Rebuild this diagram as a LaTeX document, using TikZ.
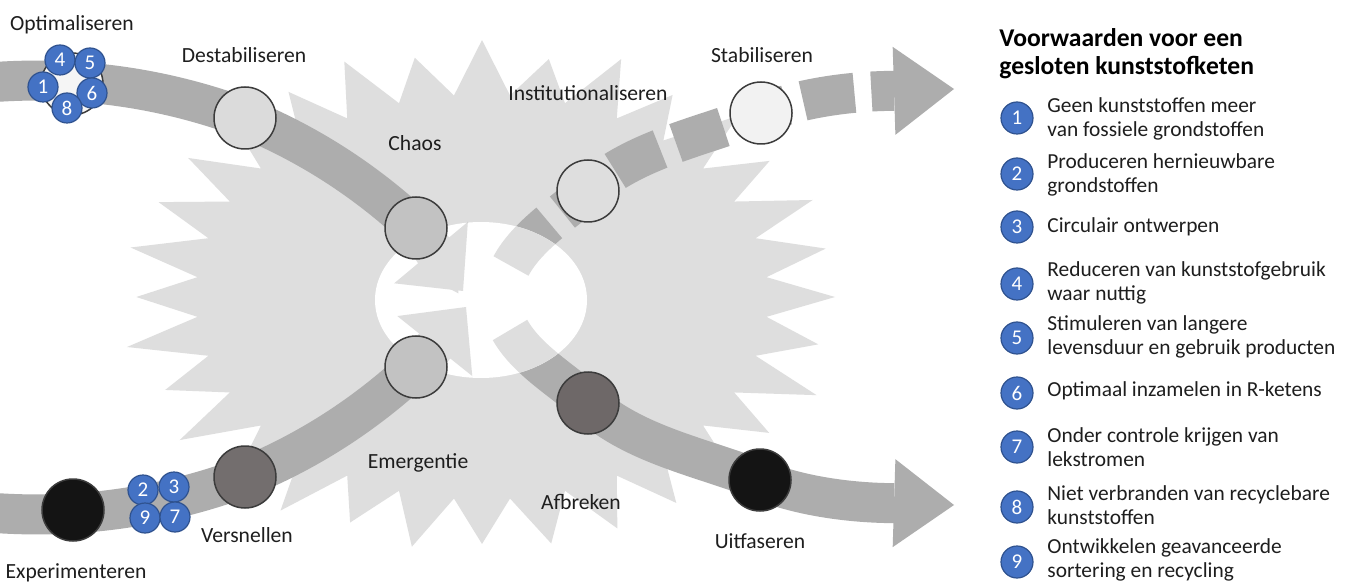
\documentclass[tikz,border=0pt]{standalone}
\usepackage{fontspec}
\setmainfont{Carlito}
\usetikzlibrary{arrows.meta}
\definecolor{bandgray}{HTML}{ADADAD}
\definecolor{stargray}{HTML}{DEDEDE}
\definecolor{ringline}{HTML}{3C3C3C}
\definecolor{numblue}{HTML}{4472C4}
\definecolor{numedge}{HTML}{2F528F}
\definecolor{labelink}{HTML}{1E1E1E}

% the four curved bands, drawn in the colour given as argument
\newcommand\drawbands[2]{%
  \draw[band,line width=#2,inhead,#1] (a0) .. controls (83,76) and (167,89) .. (a1)
        .. controls (309,144) and (367,182) .. (a2)
        .. controls (433,246) and (448,273) .. (a3);
  \draw[band,line width=#2,inhead,#1] (b0) .. controls (83,519) and (167,506) .. (b1)
        .. controls (309,451) and (367,413) .. (b2)
        .. controls (433,349) and (450,327) .. (b3);
  \draw[band,line width=#2,outhead,#1] (c0) .. controls (527,360) and (562,380) .. (c1)
        .. controls (635,445) and (701,457) .. (c2)
        .. controls (820,504) and (889,503) .. (c3);
  \draw[band,line width=#2,outhead,gapdash,#1] (d0) .. controls (527,236) and (562,214) .. (d1)
        .. controls (635,149) and (701,137) .. (d2)
        .. controls (820,90) and (889,91) .. (d3);
}

\begin{document}
\begin{tikzpicture}[x=0.5pt,y=-0.5pt,
  band/.style={line width=20pt},
  inhead/.style={-{Triangle[length=25pt,width=48pt,line width=0pt]}},
  outhead/.style={-{Triangle[length=30pt,width=44pt,line width=0pt]}},
  gapdash/.style={dash pattern=on 29pt off 8.5pt on 25pt off 8.5pt on 25pt off 8.5pt on 25pt off 8.5pt on 25pt off 8.5pt on 26pt off 8.5pt on 60pt},
  phase/.style={circle,draw=ringline,line width=0.75pt,minimum size=31pt,inner sep=0pt},
  num/.style={circle,fill=numblue,draw=numedge,line width=0.6pt,minimum size=15pt,inner sep=0pt,text=white,font=\fontsize{10.5pt}{10.5pt}\selectfont},
  legnum/.style={num,minimum size=16pt},
  lbl/.style={text=labelink,font=\fontsize{10.8pt}{12pt}\selectfont,inner sep=0pt},
  legtext/.style={text=labelink,anchor=west,align=left,inner sep=0pt,font=\fontsize{10.7pt}{12pt}\selectfont},
]
\useasboundingbox (0,0) rectangle (1347,582);
\fill[white] (0,0) rectangle (1347,582);

% spiky backdrop, tips of slightly uneven length
\fill[stargray] plot[variable=\k,samples at={0,...,63}]
  ({482+353*(1-0.19*mod(\k,2)+0.03*(1-mod(\k,2))*sin(\k*97))*cos(\k*5.625)},
   {297-250*(1-0.19*mod(\k,2)+0.03*(1-mod(\k,2))*sin(\k*97))*sin(\k*5.625)}) -- cycle;

% path points of the bands
\coordinate (a0) at (-5,82);
\coordinate (a1) at (245,118);
\coordinate (a2) at (416,228);
\coordinate (a3) at (463,291);
\coordinate (b0) at (-5,513);
\coordinate (b1) at (245,477);
\coordinate (b2) at (416,367);
\coordinate (b3) at (466,307);
\coordinate (c0) at (510,330);
\coordinate (c1) at (588,403);
\coordinate (c2) at (760,480);
\coordinate (c3) at (954,505);
\coordinate (d0) at (511,266);
\coordinate (d1) at (588,191);
\coordinate (d2) at (760,114);
\coordinate (d3) at (954,89);

% bands, then the open centre, then the pale parts of the bands inside it
\drawbands{bandgray}{20pt}
\fill[white] (481,300) ellipse [x radius=106,y radius=78];
\begin{scope}
  \clip (481,300) ellipse [x radius=106,y radius=78];
  \drawbands{stargray}{20pt}
\end{scope}

% phase markers
\node[phase,fill=white!96!black] (cOpt) at (72,84) {};
\node[phase,fill=black!14] (cDest) at (245,118) {};
\node[phase,fill=black!24] (cChaos) at (416,228) {};
\node[phase,fill=black!13] (cInst) at (588,191) {};
\node[phase,fill=black!5] (cStab) at (761,113) {};
\node[phase,fill=black!92] (cExp) at (73,510) {};
\node[phase,fill={rgb,255:red,115;green,110;blue,110}] (cVers) at (245,477) {};
\node[phase,fill=black!24] (cEmer) at (416,367) {};
\node[phase,fill={rgb,255:red,110;green,104;blue,104}] (cAfbr) at (588,403) {};
\node[phase,fill=black!92] (cUit) at (760,480) {};

% numbered badges on the bands
\node[num] (o4) at (60,60) {4};
\node[num] (o5) at (90,63) {5};
\node[num] (o1) at (43,87) {1};
\node[num] (o6) at (92,93) {6};
\node[num] (o8) at (67,108) {8};
\node[num] (e2) at (143,490) {2};
\node[num] (e3) at (174,487) {3};
\node[num] (e9) at (145,518) {9};
\node[num] (e7) at (175,517) {7};

% phase labels
\node[lbl] (lOpt) at (72,25) {Optimaliseren};
\node[lbl] (lDest) at (244,55) {Destabiliseren};
\node[lbl] (lChaos) at (415,143) {Chaos};
\node[lbl] (lInst) at (588,93) {Institutionaliseren};
\node[lbl] (lStab) at (762,55) {Stabiliseren};
\node[lbl] (lEmer) at (418,463) {Emergentie};
\node[lbl] (lAfbr) at (581,502) {Afbreken};
\node[lbl] (lUit) at (760,541) {Uitfaseren};
\node[lbl] (lVers) at (247,535) {Versnellen};
\node[lbl] (lExp) at (76,573) {Experimenteren};

% legend
\node[anchor=west,align=left,inner sep=0pt,text=black,font=\bfseries\fontsize{12.8pt}{14pt}\selectfont] (title) at (999,54)
  {Voorwaarden voor een\\gesloten kunststofketen};
\node[legnum] (n1) at (1017,118) {1};
\node[legtext] (t1) at (1047,119) {Geen kunststoffen meer\\van fossiele grondstoffen};
\node[legnum] (n2) at (1017,174) {2};
\node[legtext] (t2) at (1047,175) {Produceren hernieuwbare\\grondstoffen};
\node[legnum] (n3) at (1017,227) {3};
\node[legtext] (t3) at (1047,227) {Circulair ontwerpen};
\node[legnum] (n4) at (1017,284) {4};
\node[legtext] (t4) at (1047,283) {Reduceren van kunststofgebruik\\waar nuttig};
\node[legnum] (n5) at (1017,338) {5};
\node[legtext] (t5) at (1047,337) {Stimuleren van langere\\levensduur en gebruik producten};
\node[legnum] (n6) at (1017,393) {6};
\node[legtext] (t6) at (1047,391) {Optimaal inzamelen in R-ketens};
\node[legnum] (n7) at (1017,447) {7};
\node[legtext] (t7) at (1047,447) {Onder controle krijgen van\\lekstromen};
\node[legnum] (n8) at (1017,507) {8};
\node[legtext] (t8) at (1047,505) {Niet verbranden van recyclebare\\kunststoffen};
\node[legnum] (n9) at (1017,562) {9};
\node[legtext] (t9) at (1047,560) {Ontwikkelen geavanceerde\\sortering en recycling};
\end{tikzpicture}
\end{document}
